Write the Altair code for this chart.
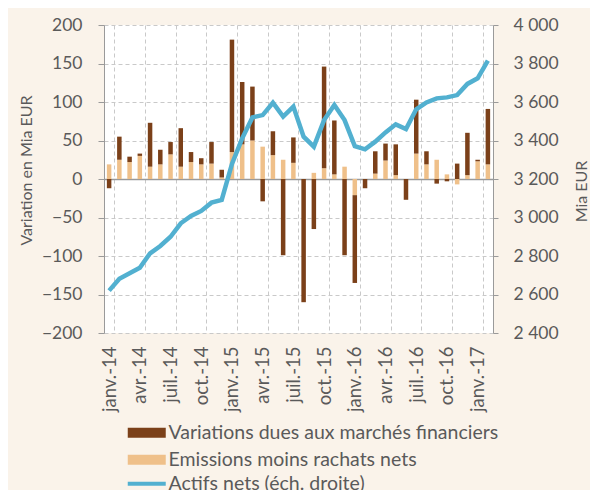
import altair as alt
import pandas as pd

mois_noms = ["janv.", "févr.", "mars", "avr.", "mai", "juin", "juil.", "août",
             "sept.", "oct.", "nov.", "déc."]
mois = [f"{m}-{a}" for a in ["14", "15", "16", "17"] for m in mois_noms][:38]
mois_axe = [m for m in mois if m.split("-")[0] in ("janv.", "avr.", "juil.", "oct.")]

emissions = [19, 25, 22, 30, 16, 19, 32, 16, 22, 19, 20, 2,
             35, 45, 50, 42, 31, 25, 21, 0, 8, 14, 6, 16,
             -21, 0, 7, 24, 5, 0, 33, 19, 25, 6, -7, 5,
             23, 19]
variations = [-12, 30, 7, 3, 57, 19, 16, 50, 13, 8, 28, 10,
              146, 81, 70, -29, 31, -99, 33, -160, -65, 132, 70, -99,
              -114, -12, 29, 22, 40, -27, 70, 17, -6, -3, 20, 55,
              2, 72]
actifs = [2620, 2682, 2710, 2739, 2814, 2852, 2900, 2970, 3008, 3034, 3077, 3091,
          3278, 3411, 3520, 3532, 3596, 3524, 3576, 3420, 3368, 3506, 3584, 3506,
          3371, 3354, 3394, 3442, 3484, 3460, 3562, 3598, 3619, 3624, 3636, 3694,
          3723, 3815]

V_NAME = "Variations dues aux marchés financiers"
E_NAME = "Emissions moins rachats nets"
A_NAME = "Actifs nets (éch. droite)"

rows = []
for i, m in enumerate(mois):
    rows.append({"mois": m, "serie": E_NAME, "valeur": emissions[i], "ordre": 0})
    rows.append({"mois": m, "serie": V_NAME, "valeur": variations[i], "ordre": 1})
bars_df = pd.DataFrame(rows)
line_df = pd.DataFrame({"mois": mois, "actifs": actifs, "serie": A_NAME})

FONT = "Lato"
TXT = "#5a5a5a"
GRID = "#c9c9c9"
AXIS = "#9a9a9a"
DARK = "#7b4019"
LIGHT = "#efc08a"
BLUE = "#52b0d0"

x_scale = alt.Scale(paddingInner=0, paddingOuter=0)

x_axis = alt.Axis(values=mois_axe, labelAngle=-90, tickBand="extent",
                  grid=True, gridDash=[4, 3], gridColor=GRID,
                  domain=False, ticks=False, labelPadding=13,
                  title=None, labelFontSize=18.5, labelColor=TXT,
                  labelFont=FONT)

legend_common = dict(title=None, orient="none", labelFont=FONT, labelFontSize=19.5,
                     labelColor=TXT, labelOffset=12, labelLimit=500, padding=0,
                     symbolSize=100)

bars = alt.Chart(bars_df).mark_bar(width=alt.RelativeBandSize(0.44)).encode(
    x=alt.X("mois:O", sort=mois, scale=x_scale, axis=x_axis),
    y=alt.Y("valeur:Q", stack="zero",
            scale=alt.Scale(domain=[-200, 200], nice=False),
            axis=alt.Axis(values=list(range(-200, 201, 50)),
                          title="Variation en Mia EUR",
                          grid=True,
                          gridDash=alt.condition("datum.value === 0", alt.value([]), alt.value([4, 3])),
                          gridColor=alt.condition("datum.value === 0", alt.value(AXIS), alt.value(GRID)),
                          gridWidth=alt.condition("datum.value === 0", alt.value(1.5), alt.value(1)),
                          domainColor=AXIS, tickColor=AXIS, tickSize=6,
                          labelPadding=16, labelFontSize=17.5, labelColor=TXT,
                          labelFont=FONT, titleFont=FONT, titleFontSize=16,
                          titleColor=TXT, titleFontWeight="normal",
                          titleX=-78, titleY=145, titleAlign="center",
                          titleBaseline="middle")),
    fill=alt.Fill("serie:N",
                  scale=alt.Scale(domain=[V_NAME, E_NAME], range=[DARK, LIGHT]),
                  legend=alt.Legend(legendX=33, legendY=398,
                                    symbolType="M-3.8,-1H3.8V1H-3.8Z",
                                    symbolStrokeWidth=0, rowPadding=6,
                                    **legend_common)),
    order=alt.Order("ordre:Q"),
)

line = alt.Chart(line_df).mark_line(strokeWidth=4.5).encode(
    x=alt.X("mois:O", sort=mois, scale=x_scale, axis=x_axis),
    y=alt.Y("actifs:Q",
            scale=alt.Scale(domain=[2400, 4000], nice=False, zero=False),
            axis=alt.Axis(orient="right", values=list(range(2400, 4001, 200)),
                          labelExpr="replace(format(datum.value, ',d'), ',', ' ')",
                          title="Mia EUR", titleAngle=270, titleX=88, titleY=166,
                          titleBaseline="middle", titleAlign="center",
                          grid=False,
                          domainColor=AXIS, tickColor=AXIS, tickSize=5,
                          labelPadding=15, labelFontSize=17.5, labelColor=TXT,
                          labelFont=FONT, titleFont=FONT, titleFontSize=16,
                          titleColor=TXT, titleFontWeight="normal")),
    stroke=alt.Stroke("serie:N",
                      scale=alt.Scale(domain=[A_NAME], range=[BLUE]),
                      legend=alt.Legend(legendX=33, legendY=449,
                                        symbolType="M-3.8,0H3.8",
                                        symbolStrokeWidth=4,
                                        **legend_common)),
)

chart = alt.layer(bars, line).resolve_scale(
    y="independent", fill="independent", stroke="independent"
).properties(
    width=389, height=308,
    autosize=alt.AutoSizeParams(type="none"),
    padding={"left": 96, "top": 17, "right": 97, "bottom": 157},
    background="#faf3ea",
).configure_view(fill="white", stroke=None)

chart.save("out.html", embed_options={"renderer": "svg", "actions": False})
